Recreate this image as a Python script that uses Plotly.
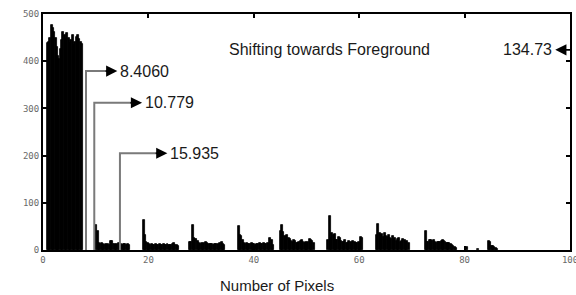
import numpy as np
import plotly.graph_objects as go

# ---------------- data ----------------
bin_width = 0.25

main_start = 0.75
main_heights = [438, 440, 450, 477, 470, 462, 450, 430, 410, 405, 425, 445, 462, 455,
                448, 460, 450, 438, 445, 455, 434, 440, 451, 455, 448, 440, 436]

cluster_starts = [10.0, 19.0, 27.75, 37.0, 45.0, 54.0, 63.25, 72.5]
cluster_heights = [
    [53, 40, 15, 13, 14, 12, 11, 12, 11, 12, 10, 20, 20, 12, 13, 11, 12, 14, 11, 12, 10, 13, 12, 11, 12, 10],
    [64, 32, 17, 15, 12, 11, 12, 10, 11, 12, 10, 11, 13, 11, 10, 12, 11, 10, 12, 11, 10, 11, 12, 14, 11, 10, 9],
    [18, 18, 53, 25, 23, 23, 20, 14, 13, 14, 13, 15, 16, 14, 12, 12, 13, 12, 11, 12, 13, 12, 11, 15, 16, 12, 10],
    [50, 32, 30, 21, 15, 13, 14, 12, 13, 12, 14, 13, 12, 11, 13, 12, 14, 13, 12, 15, 13, 12, 14, 13, 25, 22, 10],
    [40, 53, 39, 30, 28, 32, 25, 24, 20, 18, 21, 19, 15, 14, 16, 20, 21, 17, 15, 16, 14, 18, 23, 22, 20, 15],
    [22, 71, 25, 36, 32, 33, 22, 21, 27, 26, 20, 18, 16, 21, 15, 14, 19, 17, 15, 20, 16, 14, 15, 18, 14, 28, 25],
    [31, 55, 35, 30, 33, 28, 35, 30, 27, 32, 26, 24, 30, 22, 26, 20, 23, 25, 18, 20, 24, 22, 18, 20, 15],
    [41, 18, 17, 21, 22, 20, 21, 16, 15, 17, 16, 18, 20, 21, 19, 17, 15, 14, 15, 12, 11, 9, 7, 5],
]

sparse_x = [80.375, 82.625, 84.625, 84.875, 85.125, 85.375, 85.625, 85.875, 86.125]
sparse_heights = [7, 3, 19, 18, 8, 8, 6, 4, 3]

# marker lines: (vertical line x, arrow y, arrow head x, label)
marker_x = [8.16, 9.73, 14.6]
marker_y = [379, 312, 205]
marker_head_x = [14.1, 18.8, 23.6]
marker_labels = ["8.4060", "10.779", "15.935"]

right_label = "134.73"
right_label_x = 87.0
right_label_y = 424
right_head_x = 97.2

title_text = "Shifting towards Foreground"
x_title = "Number of Pixels"

x_ticks = [0, 20, 40, 60, 80, 100]
y_ticks = [0, 100, 200, 300, 400, 500]

# ---------------- build ----------------
xs, ys = [], []
def add(start, heights):
    for i, h in enumerate(heights):
        xs.append(start + bin_width * (i + 0.5))
        ys.append(h)

add(main_start, main_heights)
for s, h in zip(cluster_starts, cluster_heights):
    add(s, h)
xs.extend(sparse_x)
ys.extend(sparse_heights)

fig = go.Figure()
fig.add_trace(go.Bar(x=xs, y=ys, width=bin_width * 1.5,
                     marker=dict(color="black", line=dict(color="black", width=0.8)),
                     showlegend=False, hoverinfo="skip"))

ann_font = dict(family="Liberation Sans, Arial, sans-serif", size=16, color="#1a1a1a")
shapes = []
annotations = []
for mx, my, hx, lab in zip(marker_x, marker_y, marker_head_x, marker_labels):
    shapes.append(dict(type="path", xref="x", yref="y",
                       path=f"M {mx},0 L {mx},{my} L {hx - 1.5},{my}",
                       line=dict(color="#7a7a7a", width=2)))
    annotations.append(dict(x=hx, y=my, xref="x", yref="y", ax=hx - 2.5, ay=my,
                            axref="x", ayref="y", text="", showarrow=True,
                            arrowhead=2, arrowsize=1.4, arrowwidth=1.6, arrowcolor="black"))
    annotations.append(dict(x=hx + 0.2, y=my, xref="x", yref="y", text=lab, showarrow=False,
                            xanchor="left", yanchor="middle", font=ann_font))

annotations.append(dict(x=right_head_x, y=right_label_y, xref="x", yref="y",
                        ax=100.6, ay=right_label_y, axref="x", ayref="y", text="",
                        showarrow=True, arrowhead=2, arrowsize=1.4, arrowwidth=1.6,
                        arrowcolor="black"))
annotations.append(dict(x=right_label_x, y=right_label_y, xref="x", yref="y", text=right_label,
                        showarrow=False, xanchor="left", yanchor="middle", font=ann_font))
annotations.append(dict(x=54.4, y=424, xref="x", yref="y", text=title_text, showarrow=False,
                        xanchor="center", yanchor="middle", font=ann_font))
annotations.append(dict(x=44.4, y=0, xref="x", yref="paper", yshift=-35, text=x_title,
                        showarrow=False, xanchor="center", yanchor="middle",
                        font=dict(family="Liberation Sans, Arial, sans-serif", size=15,
                                  color="#1a1a1a")))

tick_font = dict(family="DejaVu Sans Mono, monospace", size=9, color="#6a6a6a")
axis_common = dict(showline=True, linecolor="black", linewidth=2, mirror="ticks",
                   ticks="inside", ticklen=4, tickwidth=1.5, tickcolor="black",
                   showgrid=False, zeroline=False, tickfont=tick_font,
                   ticklabeloverflow="allow", automargin=False)

fig.update_layout(
    width=576, height=295,
    margin=dict(l=43, r=6, t=14, b=45),
    paper_bgcolor="white", plot_bgcolor="white",
    bargap=0,
    xaxis=dict(range=[0, 100], tickvals=x_ticks, ticktext=[str(v) for v in x_ticks], **axis_common),
    yaxis=dict(range=[0, 500], tickvals=y_ticks, ticktext=[str(v) for v in y_ticks], **axis_common),
    shapes=shapes, annotations=annotations,
)

fig.write_html("out.html", config={"displayModeBar": False},
               post_script="document.body.style.margin='0px';document.body.style.overflow='hidden';")
